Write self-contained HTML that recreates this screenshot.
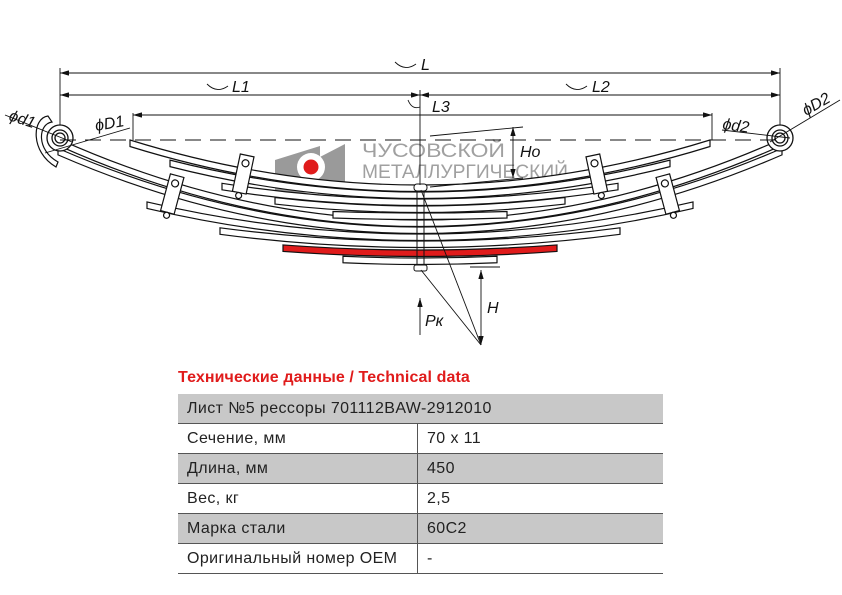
<!DOCTYPE html>
<html><head><meta charset="utf-8"><style>
html,body{margin:0;padding:0;background:#fff;}
body{width:842px;height:595px;overflow:hidden;position:relative;font-family:"Liberation Sans",sans-serif;}
svg{position:absolute;left:0;top:0;}
.t{font-family:"Liberation Sans",sans-serif;font-style:italic;font-size:16px;fill:#111;}
table{position:absolute;left:178px;top:394px;width:485px;border-collapse:collapse;font-size:16px;letter-spacing:0.4px;color:#222;}
td{height:29px;padding:0 0 0 9px;border-bottom:1.5px solid #555;}
tr.g td{background:#c8c8c8;}
td.c2{border-left:1.5px solid #555;}
.title{position:absolute;left:178px;top:369px;color:#e01b1b;font-weight:bold;font-size:16px;letter-spacing:0.1px;}
</style></head><body>
<svg id="s" width="842" height="595" viewBox="0 0 842 595" xmlns="http://www.w3.org/2000/svg">
<defs><marker id="a" viewBox="0 0 10 6" refX="10" refY="3" markerWidth="10" markerHeight="6" orient="auto-start-reverse"><path d="M0,0L10,3L0,6z" fill="#111"/></marker></defs>
<!-- logo -->
<polygon points="275,160 320,146 320,192 275,194" fill="#9a9a9a"/>
<polygon points="318,158 345,144 345,183 318,194" fill="#9a9a9a"/>
<circle cx="311" cy="167" r="14" fill="#fff"/>
<circle cx="311" cy="167" r="7.5" fill="#e01b1b"/>
<g font-size="19" fill="#a0a0a0" font-family="Liberation Sans">
<text x="362" y="157" textLength="143" lengthAdjust="spacingAndGlyphs">ЧУСОВСКОЙ</text>
<text x="362" y="178" textLength="206" lengthAdjust="spacingAndGlyphs">МЕТАЛЛУРГИЧЕСКИЙ</text>
<text x="362" y="199" textLength="70" lengthAdjust="spacingAndGlyphs">ЗАВОД</text>
</g>
<g id="leaves" stroke="#111" stroke-width="1.2" fill="#fff"></g>
<!-- left eye wrap -->
<path d="M52,122 C38,124 36,150 58,162 L56,167 C30,152 32,118 48,116 Z" fill="#fff" stroke="#111" stroke-width="1.2"/>
<g fill="#fff" stroke="#111" stroke-width="1.3">
<circle cx="60" cy="138" r="13"/><circle cx="60" cy="138" r="8"/><circle cx="60" cy="138" r="5"/>
<circle cx="780" cy="138" r="13"/><circle cx="780" cy="138" r="8"/><circle cx="780" cy="138" r="5"/>
</g>
<!-- clamps -->
<g fill="#fff" stroke="#111" stroke-width="1.2">
<g transform="translate(243,175) rotate(12)"><rect x="-7" y="-20" width="14" height="38"/><circle cx="0" cy="-12" r="3.5"/><circle cx="0" cy="21" r="3"/></g>
<g transform="translate(172,195) rotate(15)"><rect x="-7" y="-20" width="14" height="38"/><circle cx="0" cy="-12" r="3.5"/><circle cx="0" cy="21" r="3"/></g>
<g transform="translate(597,175) rotate(-12)"><rect x="-7" y="-20" width="14" height="38"/><circle cx="0" cy="-12" r="3.5"/><circle cx="0" cy="21" r="3"/></g>
<g transform="translate(668,195) rotate(-15)"><rect x="-7" y="-20" width="14" height="38"/><circle cx="0" cy="-12" r="3.5"/><circle cx="0" cy="21" r="3"/></g>
</g>
<!-- center bolt -->
<g stroke="#111" stroke-width="1" fill="none">
<line x1="417" y1="190" x2="417" y2="268"/><line x1="424" y1="190" x2="424" y2="268"/>
<rect x="414" y="184" width="13" height="7" rx="3" fill="#fff"/>
<rect x="414" y="265" width="13" height="6" rx="2" fill="#fff"/>
</g>
<!-- dimension lines -->
<g stroke="#111" stroke-width="0.9" fill="none">
<line x1="60" y1="68" x2="60" y2="125"/><line x1="780" y1="68" x2="780" y2="125"/>
<line x1="60" y1="73" x2="780" y2="73" marker-start="url(#a)" marker-end="url(#a)"/>
<line x1="60" y1="95" x2="420" y2="95" marker-start="url(#a)" marker-end="url(#a)"/>
<line x1="420" y1="95" x2="780" y2="95" marker-start="url(#a)" marker-end="url(#a)"/>
<line x1="133" y1="115" x2="712" y2="115" marker-start="url(#a)" marker-end="url(#a)"/>
<line x1="133" y1="113" x2="133" y2="140"/><line x1="712" y1="113" x2="712" y2="140"/>
<line x1="420" y1="90" x2="420" y2="185"/>
<path d="M395,62 Q405,72 416,64"/><path d="M207,84 Q217,94 228,86"/><path d="M566,84 Q576,94 587,86"/><path d="M408,100 Q412,110 420,107"/>
<line x1="60" y1="140" x2="780" y2="140" stroke-dasharray="16,9"/>
<line x1="430" y1="136" x2="523" y2="127"/><line x1="430" y1="187" x2="523" y2="178"/>
<line x1="513" y1="127" x2="513" y2="178" marker-start="url(#a)" marker-end="url(#a)"/>
<line x1="421" y1="190" x2="481" y2="345"/>
<line x1="421" y1="270" x2="481" y2="345"/>
<line x1="481" y1="270" x2="481" y2="345" marker-start="url(#a)" marker-end="url(#a)"/>
<line x1="470" y1="267" x2="500" y2="267"/>
<line x1="420" y1="335" x2="420" y2="298" marker-end="url(#a)"/>
<line x1="5" y1="115" x2="72" y2="142"/><line x1="45" y1="153" x2="130" y2="128"/>
<line x1="770" y1="142" x2="840" y2="100"/><line x1="722" y1="130" x2="790" y2="138"/>
</g>
<text class="t" x="421" y="70">L</text>
<text class="t" x="232" y="92">L1</text>
<text class="t" x="592" y="92">L2</text>
<text class="t" x="432" y="112">L3</text>
<text class="t" x="520" y="157">Ho</text>
<text class="t" x="487" y="313">H</text>
<text class="t" x="425" y="326">Pк</text>
<text class="t" x="8" y="120" transform="rotate(18 8 120)">ϕd1</text>
<text class="t" x="96" y="131" transform="rotate(-10 96 131)">ϕD1</text>
<text class="t" x="722" y="129" transform="rotate(8 722 129)">ϕd2</text>
<text class="t" x="806" y="116" transform="rotate(-30 806 116)">ϕD2</text>
</svg>
<div class="title">Технические данные / Technical data</div>
<table>
<tr class="g"><td colspan="2">Лист №5 рессоры 701112BAW-2912010</td></tr>
<tr><td style="width:230px">Сечение, мм</td><td class="c2">70 x 11</td></tr>
<tr class="g"><td>Длина, мм</td><td class="c2">450</td></tr>
<tr><td>Вес, кг</td><td class="c2">2,5</td></tr>
<tr class="g"><td>Марка стали</td><td class="c2">60C2</td></tr>
<tr><td>Оригинальный номер OEM</td><td class="c2">-</td></tr>
</table>
<script>
var L=[
 [258,77,0.0003,'#fff'],[250,137,0.00027,'#e01b1b'],[241,200,0.00033,'#fff'],[234,273,0.00043,'#fff'],
 [227,362,0.0006,'#fff'],[220,360,0.00062,'#fff'],
 [213,87,0.0002,'#fff'],[206,145,0.0004,'#fff'],[199,198,0.0004,'#fff'],[192,250,0.00051,'#fff'],[185,290,0.000535,'#fff']
];
var g=document.getElementById('leaves'),h='',xc=420,t=6.5;
L.forEach(function(l){var yc=l[0],hw=l[1],a=l[2],d=a*hw*hw,ye=yc-d,yk=yc+d;
 h+='<path fill="'+l[3]+'" d="M'+(xc-hw)+','+ye+' Q'+xc+','+yk+' '+(xc+hw)+','+ye+' L'+(xc+hw)+','+(ye+t)+' Q'+xc+','+(yk+t)+' '+(xc-hw)+','+(ye+t)+'Z"/>';});
g.innerHTML=h;
</script>
</body></html>
